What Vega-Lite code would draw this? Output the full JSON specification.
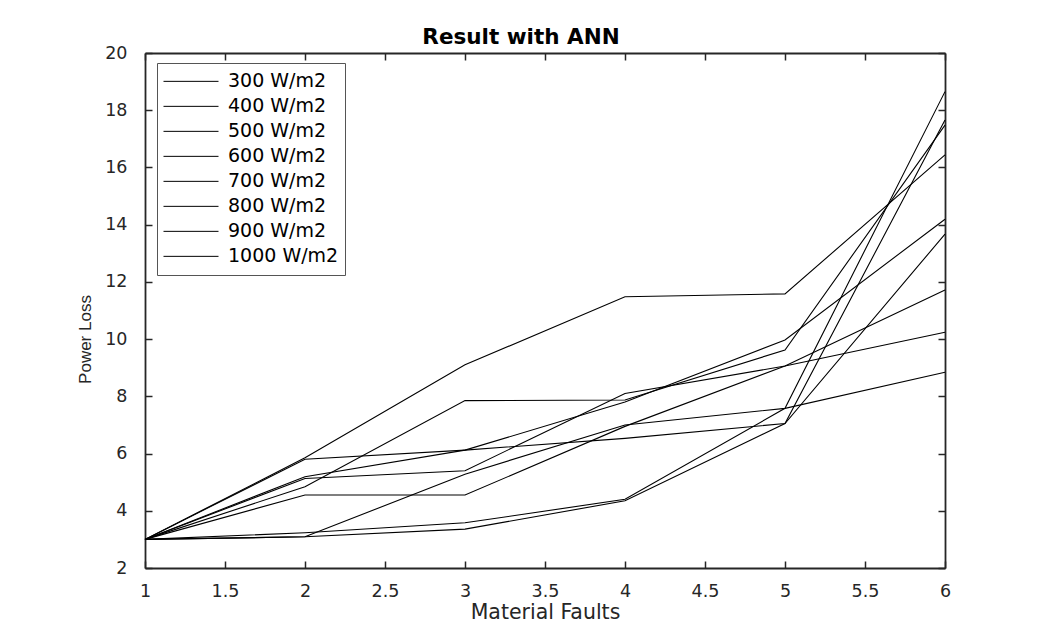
{
  "$schema": "https://vega.github.io/schema/vega-lite/v6.json",
  "width": 800,
  "height": 515,
  "autosize": {"type": "none"},
  "padding": {"left": 145, "top": 53, "right": 92, "bottom": 69},
  "background": "white",
  "title": {"text": "Result with ANN", "font": "DejaVu Sans", "fontSize": 21.5, "fontWeight": "bold", "color": "black", "offset": -4, "anchor": "middle", "dx": -24},
  "data": {"values": [
    {"series": "300 W/m2", "faults": 1, "loss": 3.0}, {"series": "300 W/m2", "faults": 2, "loss": 5.85}, {"series": "300 W/m2", "faults": 3, "loss": 9.1}, {"series": "300 W/m2", "faults": 4, "loss": 11.48}, {"series": "300 W/m2", "faults": 5, "loss": 11.58}, {"series": "300 W/m2", "faults": 6, "loss": 16.44},
    {"series": "400 W/m2", "faults": 1, "loss": 3.0}, {"series": "400 W/m2", "faults": 2, "loss": 5.8}, {"series": "400 W/m2", "faults": 3, "loss": 6.12}, {"series": "400 W/m2", "faults": 4, "loss": 6.53}, {"series": "400 W/m2", "faults": 5, "loss": 7.05}, {"series": "400 W/m2", "faults": 6, "loss": 13.67},
    {"series": "500 W/m2", "faults": 1, "loss": 3.0}, {"series": "500 W/m2", "faults": 2, "loss": 5.19}, {"series": "500 W/m2", "faults": 3, "loss": 6.12}, {"series": "500 W/m2", "faults": 4, "loss": 7.8}, {"series": "500 W/m2", "faults": 5, "loss": 9.97}, {"series": "500 W/m2", "faults": 6, "loss": 14.19},
    {"series": "600 W/m2", "faults": 1, "loss": 3.0}, {"series": "600 W/m2", "faults": 2, "loss": 5.13}, {"series": "600 W/m2", "faults": 3, "loss": 5.4}, {"series": "600 W/m2", "faults": 4, "loss": 8.1}, {"series": "600 W/m2", "faults": 5, "loss": 9.06}, {"series": "600 W/m2", "faults": 6, "loss": 10.24},
    {"series": "700 W/m2", "faults": 1, "loss": 3.0}, {"series": "700 W/m2", "faults": 2, "loss": 4.84}, {"series": "700 W/m2", "faults": 3, "loss": 7.85}, {"series": "700 W/m2", "faults": 4, "loss": 7.87}, {"series": "700 W/m2", "faults": 5, "loss": 9.62}, {"series": "700 W/m2", "faults": 6, "loss": 17.48},
    {"series": "800 W/m2", "faults": 1, "loss": 3.0}, {"series": "800 W/m2", "faults": 2, "loss": 4.55}, {"series": "800 W/m2", "faults": 3, "loss": 4.55}, {"series": "800 W/m2", "faults": 4, "loss": 6.95}, {"series": "800 W/m2", "faults": 5, "loss": 9.06}, {"series": "800 W/m2", "faults": 6, "loss": 11.72},
    {"series": "900 W/m2", "faults": 1, "loss": 3.0}, {"series": "900 W/m2", "faults": 2, "loss": 3.23}, {"series": "900 W/m2", "faults": 3, "loss": 3.58}, {"series": "900 W/m2", "faults": 4, "loss": 4.4}, {"series": "900 W/m2", "faults": 5, "loss": 7.58}, {"series": "900 W/m2", "faults": 6, "loss": 18.65},
    {"series": "1000 W/m2", "faults": 1, "loss": 3.0}, {"series": "1000 W/m2", "faults": 2, "loss": 3.09}, {"series": "1000 W/m2", "faults": 3, "loss": 3.36}, {"series": "1000 W/m2", "faults": 4, "loss": 4.35}, {"series": "1000 W/m2", "faults": 5, "loss": 7.05}, {"series": "1000 W/m2", "faults": 6, "loss": 17.66},
    {"series": "1100 W/m2", "faults": 1, "loss": 3.0}, {"series": "1100 W/m2", "faults": 2, "loss": 3.09}, {"series": "1100 W/m2", "faults": 3, "loss": 5.28}, {"series": "1100 W/m2", "faults": 4, "loss": 7.0}, {"series": "1100 W/m2", "faults": 5, "loss": 7.58}, {"series": "1100 W/m2", "faults": 6, "loss": 8.84}
  ]},
  "layer": [
    {
      "mark": {"type": "line", "strokeWidth": 1.1},
      "encoding": {
        "x": {"field": "faults", "type": "quantitative", "scale": {"domain": [1, 6], "nice": false},
              "axis": {"orient": "bottom", "values": [1, 1.5, 2, 2.5, 3, 3.5, 4, 4.5, 5, 5.5, 6], "format": "~g", "grid": false, "domainColor": "#262626", "domainWidth": 1.8, "tickColor": "#262626", "tickWidth": 1.5, "tickSize": -7, "labelPadding": 21, "labelFont": "DejaVu Sans", "labelFontSize": 17.5, "labelColor": "#262626", "labelFlush": false, "title": "Material Faults", "titleFont": "DejaVu Sans", "titleFontSize": 20.5, "titleFontWeight": "normal", "titleColor": "#262626", "titlePadding": 3}},
        "y": {"field": "loss", "type": "quantitative", "scale": {"domain": [2, 20], "nice": false},
              "axis": {"orient": "left", "values": [2, 4, 6, 8, 10, 12, 14, 16, 18, 20], "grid": false, "domainColor": "#262626", "domainWidth": 1.8, "tickColor": "#262626", "tickWidth": 1.5, "tickSize": -7, "labelPadding": 25, "labelFont": "DejaVu Sans", "labelFontSize": 17.5, "labelColor": "#262626", "labelFlush": false, "title": "Power Loss", "titleFont": "Liberation Sans", "titleFontSize": 17, "titleFontWeight": "normal", "titleColor": "#262626", "titleX": -60, "titleY": 286, "titleBaseline": "middle", "titleAngle": 270}},
        "color": {"field": "series", "type": "nominal",
                  "scale": {"domain": ["300 W/m2", "400 W/m2", "500 W/m2", "600 W/m2", "700 W/m2", "800 W/m2", "900 W/m2", "1000 W/m2", "1100 W/m2"], "range": ["#000000", "#000000", "#000000", "#000000", "#000000", "#000000", "#000000", "#000000", "#000000"]},
                  "legend": {"values": ["300 W/m2", "400 W/m2", "500 W/m2", "600 W/m2", "700 W/m2", "800 W/m2", "900 W/m2", "1000 W/m2"], "title": null, "orient": "none", "legendX": 12, "legendY": 10, "symbolType": "stroke", "symbolSize": 3025, "symbolStrokeWidth": 1, "labelFont": "DejaVu Sans", "labelFontSize": 19, "labelColor": "#000000", "labelOffset": 9, "clipHeight": 24.7, "rowPadding": 0, "padding": 6, "strokeColor": "#555555", "fillColor": "white"}}
      }
    },
    {
      "mark": {"type": "point", "opacity": 0},
      "encoding": {
        "x": {"field": "faults", "type": "quantitative", "scale": {"domain": [1, 6], "nice": false},
              "axis": {"orient": "top", "values": [1, 1.5, 2, 2.5, 3, 3.5, 4, 4.5, 5, 5.5, 6], "labels": false, "title": null, "grid": false, "domainColor": "#262626", "domainWidth": 1.8, "tickColor": "#262626", "tickWidth": 1.5, "tickSize": -7}},
        "y": {"field": "loss", "type": "quantitative", "scale": {"domain": [2, 20], "nice": false},
              "axis": {"orient": "right", "values": [2, 4, 6, 8, 10, 12, 14, 16, 18, 20], "labels": false, "title": null, "grid": false, "domainColor": "#262626", "domainWidth": 1.8, "tickColor": "#262626", "tickWidth": 1.5, "tickSize": -7}}
      }
    }
  ],
  "resolve": {"axis": {"x": "independent", "y": "independent"}},
  "config": {"view": {"stroke": null}}
}
